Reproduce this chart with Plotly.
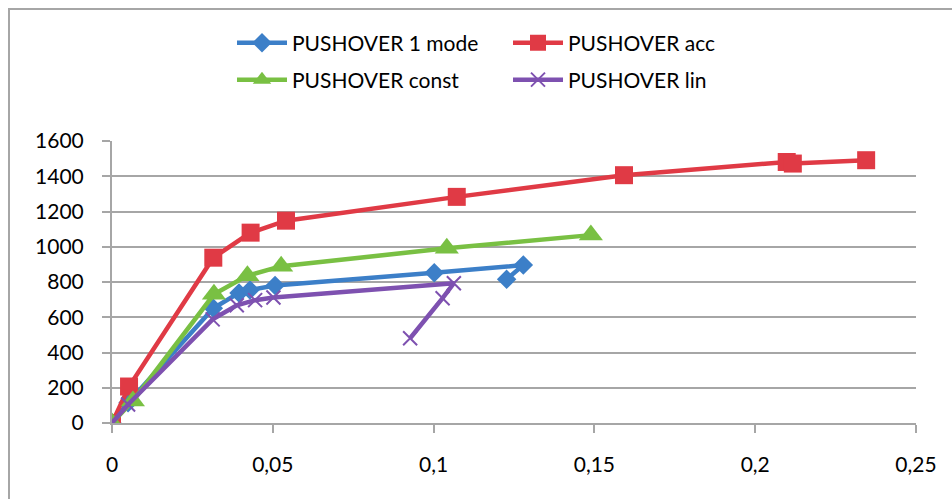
import plotly.graph_objects as go

# Pushover curves: displacement (x) vs base shear (y)
names = ["PUSHOVER 1 mode", "PUSHOVER acc", "PUSHOVER const", "PUSHOVER lin"]

mode1_x = [0, 0.005, 0.0315, 0.0395, 0.0429, 0.0507, 0.1002, 0.1279, 0.1227]
mode1_y = [0, 115, 651, 738, 755, 780, 853, 896, 815]

acc_x = [0, 0.0053, 0.0315, 0.0431, 0.0541, 0.1072, 0.1592, 0.2098, 0.2117, 0.2345]
acc_y = [0, 207, 938, 1080, 1148, 1283, 1406, 1481, 1472, 1491]

const_x = [0, 0.0065, 0.0317, 0.0421, 0.0526, 0.1041, 0.1489]
const_y = [0, 125, 730, 836, 890, 991, 1066]

lin_x = [0, 0.005, 0.0313, 0.0388, 0.0445, 0.0502, 0.1063, 0.1028, 0.0927]
lin_y = [0, 105, 588, 668, 697, 712, 793, 708, 481]

x_ticks = [0, 0.05, 0.1, 0.15, 0.2, 0.25]
x_tick_text = ["0", "0,05", "0,1", "0,15", "0,2", "0,25"]
y_ticks = [0, 200, 400, 600, 800, 1000, 1200, 1400, 1600]

colors = ["#3c7fc8", "#e03a45", "#79c043", "#7e51b0"]
symbols = ["diamond", "square", "triangle-up", "x-thin"]
sizes = [15, 18, 21, 14]
legends = ["legend", "legend", "legend2", "legend2"]

series = [(mode1_x, mode1_y), (acc_x, acc_y), (const_x, const_y), (lin_x, lin_y)]

FONT = "Lato"

fig = go.Figure()
for (xs, ys), name, col, sym, sz, lg in zip(series, names, colors, symbols, sizes, legends):
    fig.add_trace(go.Scatter(
        x=xs, y=ys, name=name, mode="lines+markers",
        line=dict(color=col, width=4.5),
        marker=dict(symbol=sym, size=sz, color=col,
                    line=dict(color=col, width=2 if sym == "x-thin" else 0)),
        legend=lg,
    ))

W, H = 952, 499
ml, mr, mt, mb = 112, 36, 141, 76
pw, ph = W - ml - mr, H - mt - mb

def px_x(p):
    return (p - ml) / pw

def px_y(p):
    return (H - mb - p) / ph

legend_common = dict(
    orientation="h", xanchor="left", yanchor="middle",
    font=dict(family=FONT, size=21, color="#000000"),
    itemwidth=50, entrywidth=211, entrywidthmode="pixels",
    bgcolor="rgba(0,0,0,0)", itemclick=False, itemdoubleclick=False,
)

fig.update_layout(
    width=W, height=H,
    margin=dict(l=ml, r=mr, t=mt, b=mb),
    paper_bgcolor="white", plot_bgcolor="white",
    font=dict(family=FONT, size=21, color="#000000"),
    legend=dict(x=px_x(232), y=px_y(43), **legend_common),
    legend2=dict(x=px_x(232), y=px_y(80), **legend_common),
    xaxis=dict(
        range=[0, 0.25], tickvals=x_ticks, ticktext=x_tick_text,
        showgrid=False, zeroline=False,
        showline=True, linecolor="#a6a6a6", linewidth=2,
        ticks="outside", ticklen=8, tickcolor="#a6a6a6", tickwidth=2,
        ticklabelstandoff=14,
    ),
    yaxis=dict(
        range=[0, 1600], tickvals=y_ticks,
        showgrid=True, gridcolor="#a6a6a6", gridwidth=1.5, zeroline=False,
        showline=True, linecolor="#a6a6a6", linewidth=2,
        ticks="outside", ticklen=8, tickcolor="#a6a6a6", tickwidth=2,
        ticklabelstandoff=14,
    ),
    shapes=[dict(
        type="rect", xref="paper", yref="paper",
        x0=px_x(9), x1=px_x(W + 20), y0=px_y(H + 20), y1=px_y(9),
        line=dict(color="#a6a6a6", width=2), fillcolor="rgba(0,0,0,0)", layer="below",
    )],
)

fig.write_html("out.html")
